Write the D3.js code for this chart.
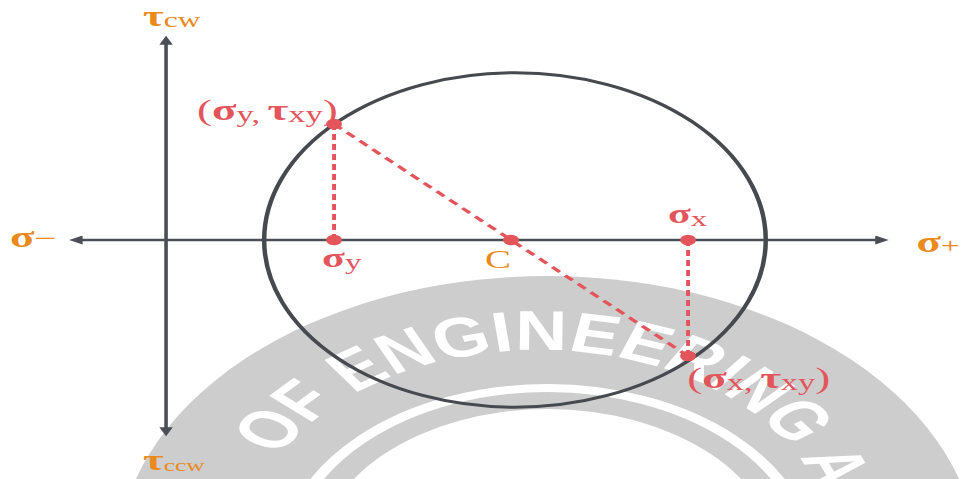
<!DOCTYPE html>
<html><head><meta charset="utf-8">
<script src="https://cdn.jsdelivr.net/npm/d3@7"></script>
<style>html,body{margin:0;padding:0;background:#fff;overflow:hidden}</style>
</head><body>
<svg id="chart" width="961" height="479"></svg>
<script>
// ---- data (stress units) ----
const sigmaAxis = [-32.7, 241.3];       // extent of σ axis: σ− … σ+
const tauAxis = [-98.5, 102.5];         // extent of τ axis: τccw … τcw
const sigmaNames = ["σy", "C", "σx"];
const sigmaValues = [56, 115, 174];     // σy, centre C, σx
const tauXY = 58;
const stateNames = ["(σy, τxy)", "(σx, τxy)"];
const stateSigma = [56, 174];
const stateTau = [58, -58];
const circleCentre = [116.3, 0];
const circleRadius = 83.6;

// ---- layout ----
const W = 961, H = 479, STRETCH = 1.5, VW = W / STRETCH;
const svg = d3.select("#chart")
  .attr("viewBox", `0 0 ${VW} ${H}`)
  .attr("preserveAspectRatio", "none");

const x = d3.scaleLinear().domain([0, 100]).range([110.7, 310.7]);
const y = d3.scaleLinear().domain([0, 100]).range([240, 40]);

const AX = "#4b4f55", RED = "#e3555b", ORANGE = "#ea8a1c";
const SERIF = "'Liberation Serif','DejaVu Serif',serif";

// ---- watermark (seal) ----
const wm = svg.append("g");
const wc = [365, 563];
wm.append("circle").attr("cx", wc[0]).attr("cy", wc[1]).attr("r", 287).attr("fill", "#cdcdcd");
wm.append("circle").attr("cx", wc[0]).attr("cy", wc[1]).attr("r", 175).attr("fill", "none")
  .attr("stroke", "#fff").attr("stroke-width", 8);
wm.append("circle").attr("cx", wc[0]).attr("cy", wc[1]).attr("r", 154).attr("fill", "#fff");
const tc = [359, 544], rT = 194, a0 = -63 * Math.PI / 180, a1 = 115 * Math.PI / 180;
const pt = a => [tc[0] + rT * Math.sin(a), tc[1] - rT * Math.cos(a)];
const p0 = pt(a0), p1 = pt(a1);
svg.append("defs").append("path").attr("id", "sealArc")
  .attr("d", `M${p0[0]},${p0[1]} A${rT},${rT} 0 0 1 ${p1[0]},${p1[1]}`);
wm.append("text").attr("font-family", "'Liberation Sans',Arial,sans-serif")
  .attr("font-size", 56).attr("font-weight", "bold").attr("fill", "#fff")
  .append("textPath").attr("href", "#sealArc")
  .attr("textLength", 532).attr("lengthAdjust", "spacingAndGlyphs")
  .text("OF ENGINEERING AND");

// ---- arrow markers ----
const defs = svg.append("defs");
defs.append("marker").attr("id", "arr").attr("viewBox", "0 0 10 10")
  .attr("refX", 2).attr("refY", 5).attr("markerWidth", 10).attr("markerHeight", 9)
  .attr("markerUnits", "userSpaceOnUse").attr("orient", "auto-start-reverse")
  .append("path").attr("d", "M0,0L10,5L0,10Z").attr("fill", AX);

// ---- axes ----
svg.append("line")
  .attr("x1", x(sigmaAxis[0]) + 8).attr("x2", x(sigmaAxis[1]) - 8)
  .attr("y1", y(0)).attr("y2", y(0))
  .attr("stroke", AX).attr("stroke-width", 2.4)
  .attr("marker-start", "url(#arr)").attr("marker-end", "url(#arr)");
svg.append("line")
  .attr("x1", x(0)).attr("x2", x(0))
  .attr("y1", y(tauAxis[1]) + 8).attr("y2", y(tauAxis[0]) - 8)
  .attr("stroke", AX).attr("stroke-width", 2.4)
  .attr("marker-start", "url(#arr)").attr("marker-end", "url(#arr)");

// ---- Mohr circle ----
svg.append("circle")
  .attr("cx", x(circleCentre[0])).attr("cy", y(circleCentre[1]))
  .attr("r", x(circleRadius) - x(0))
  .attr("fill", "none").attr("stroke", "#46494e").attr("stroke-width", 3);

// ---- construction lines ----
svg.append("line")
  .attr("x1", x(stateSigma[0])).attr("y1", y(stateTau[0]))
  .attr("x2", x(stateSigma[1])).attr("y2", y(stateTau[1]))
  .attr("stroke", RED).attr("stroke-width", 2.8).attr("stroke-dasharray", "7,5");
stateSigma.forEach((s, i) => {
  svg.append("line")
    .attr("x1", x(s)).attr("x2", x(s)).attr("y1", y(0)).attr("y2", y(stateTau[i]))
    .attr("stroke", RED).attr("stroke-width", 2.6).attr("stroke-dasharray", "6,4");
});

// ---- points ----
svg.selectAll("circle.pt-axis").data(sigmaValues).join("circle").attr("class", "pt-axis")
  .attr("cx", d => x(d)).attr("cy", y(0)).attr("r", 5.3).attr("fill", RED);
svg.selectAll("circle.pt-state").data(stateSigma).join("circle").attr("class", "pt-state")
  .attr("cx", d => x(d)).attr("cy", (d, i) => y(stateTau[i])).attr("r", 5.3).attr("fill", RED);

// ---- labels ----
function label(px, py, parts, color) {
  const t = svg.append("text").attr("x", px).attr("y", py)
    .attr("font-family", SERIF).attr("fill", color);
  parts.forEach(p => {
    t.append("tspan").text(p[0]).attr("font-size", p[1])
      .attr("font-weight", p[2] ? "bold" : "normal").attr("dy", p[3] || 0);
  });
  return t;
}
// axis labels
label(x(sigmaAxis[0]) - 38.6, y(0) + 7, [["σ", 30, true], ["−", 26, false]], ORANGE);
label(x(sigmaAxis[1]) + 17.7, y(0) + 12, [["σ", 30, true], ["+", 22, false, 1]], ORANGE);
label(x(0) - 15.4, y(tauAxis[1]) - 9, [["τ", 30, true], ["cw", 21, false, 1]], ORANGE);
label(x(0) - 15.4, y(tauAxis[0]) + 33, [["τ", 30, true], ["ccw", 17, false, 1]], ORANGE);
// σ labels on axis
label(x(sigmaValues[0]) - 8, y(0) + 27, [["σ", 28, true], ["y", 22, false, 2]], RED);
label(x(sigmaValues[1]) - 17.4, y(0) + 28, [["C", 26, false]], ORANGE);
label(x(sigmaValues[2]) - 13.4, y(0) - 17, [["σ", 28, true], ["x", 22, false, 3]], RED);
// state point labels
label(x(stateSigma[0]) - 91.4, y(stateTau[0]) - 4,
  [["(", 30, false], ["σ", 30, true], ["y,", 23, false, 2], [" ", 20, false], ["τ", 30, true, -2], ["xy", 23, false, 2], [")", 30, false, -2]], RED);
label(x(stateSigma[1]) - 0.5, y(stateTau[1]) + 32,
  [["(", 30, false], ["σ", 30, true], ["x,", 23, false, 2], [" ", 20, false], ["τ", 30, true, -2], ["xy", 23, false, 2], [")", 30, false, -2]], RED);
</script>
</body></html>
